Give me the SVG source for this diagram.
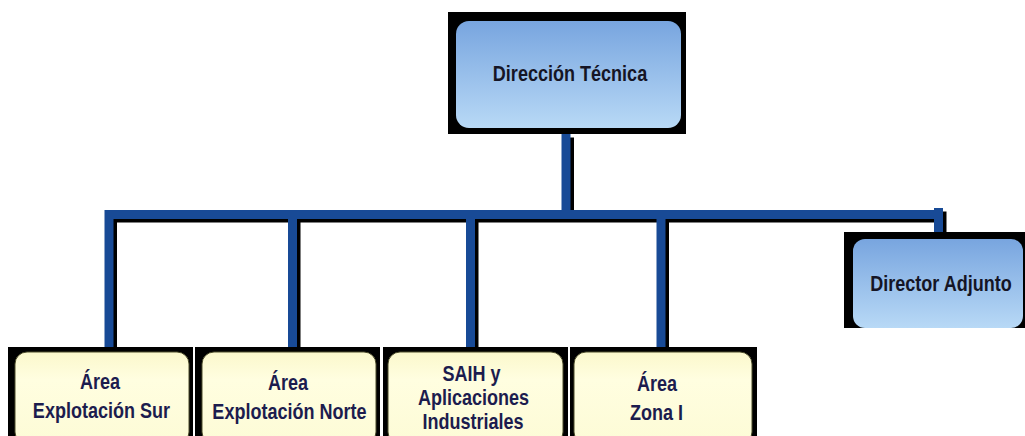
<svg xmlns="http://www.w3.org/2000/svg" width="1025" height="436" viewBox="0 0 1025 436">
<style>
.frame{fill:#000}
.blue{fill:url(#gBlue)}
.cream{fill:url(#gCream);stroke:#4a4a2a;stroke-width:1}
.t{font-family:"Liberation Sans",Arial,sans-serif;font-weight:bold;text-anchor:middle;fill:#1c1c4e;font-size:22px}
.tb{fill:#151525}
.shadow{fill:none;stroke:#000;stroke-width:9}
.line{fill:none;stroke:#184a96;stroke-width:9}
</style>
<defs>
<linearGradient id="gBlue" x1="0" y1="0" x2="0" y2="1">
<stop offset="0" stop-color="#78a5df"/>
<stop offset="1" stop-color="#b8d9f6"/>
</linearGradient>
<linearGradient id="gCream" x1="0" y1="0" x2="0" y2="1">
<stop offset="0" stop-color="#fbf8cc"/>
<stop offset="0.3" stop-color="#fffee0"/>
<stop offset="1" stop-color="#fdfbd6"/>
</linearGradient>
</defs>
<rect width="1025" height="436" fill="#fff"/>
<g id="connectors">
<g transform="translate(3.5,3.5)">
<path class="shadow" d="M566 134V214M105 214.5H942.5M109 214V343.5M292.5 214V343.5M470.5 214V343.5M661 214V343.5M938.5 208V228.5"/>
</g>
<path class="line" d="M566 134V214M105 214.5H942.5M109 210V347M292.5 210V347M470.5 214V347M661 214V347M938.5 208V232"/>
</g>
<g id="direccion-tecnica">
<rect class="frame" x="448" y="12" width="238" height="122"/>
<rect class="blue" x="456" y="21" width="225" height="107" rx="13"/>
<text class="t tb" transform="matrix(0.82 0 0 1 570 0)" x="0" y="81">Dirección Técnica</text>
</g>
<g id="director-adjunto">
<rect class="frame" x="844" y="232" width="181" height="96"/>
<rect class="blue" x="853" y="239" width="170" height="89" rx="12"/>
<text class="t tb" transform="matrix(0.82 0 0 1 941 0)" x="0" y="291">Director Adjunto</text>
</g>
<g id="area-explotacion-sur">
<rect class="frame" x="8" y="347" width="185" height="89"/>
<rect class="cream" x="15" y="352" width="174" height="92" rx="12"/>
<text class="t" transform="matrix(0.82 0 0 1 100 0)" x="0" y="389">Área</text>
<text class="t" transform="matrix(0.82 0 0 1 101.5 0)" x="0" y="418">Explotación Sur</text>
</g>
<g id="area-explotacion-norte">
<rect class="frame" x="195" y="347" width="185" height="89"/>
<rect class="cream" x="202" y="352" width="174" height="92" rx="12"/>
<text class="t" transform="matrix(0.82 0 0 1 288 0)" x="0" y="390">Área</text>
<text class="t" transform="matrix(0.82 0 0 1 289.5 0)" x="0" y="419">Explotación Norte</text>
</g>
<g id="saih">
<rect class="frame" x="383" y="347" width="185" height="89"/>
<rect class="cream" x="388" y="352" width="175" height="92" rx="12"/>
<text class="t" transform="matrix(0.82 0 0 1 471.5 0)" x="0" y="381">SAIH y</text>
<text class="t" transform="matrix(0.82 0 0 1 473.5 0)" x="0" y="405">Aplicaciones</text>
<text class="t" transform="matrix(0.82 0 0 1 473 0)" x="0" y="429">Industriales</text>
</g>
<g id="area-zona-i">
<rect class="frame" x="570" y="347" width="187" height="89"/>
<rect class="cream" x="574" y="352" width="178" height="92" rx="12"/>
<text class="t" transform="matrix(0.82 0 0 1 657 0)" x="0" y="391">Área</text>
<text class="t" transform="matrix(0.82 0 0 1 656.5 0)" x="0" y="420">Zona I</text>
</g>
</svg>
